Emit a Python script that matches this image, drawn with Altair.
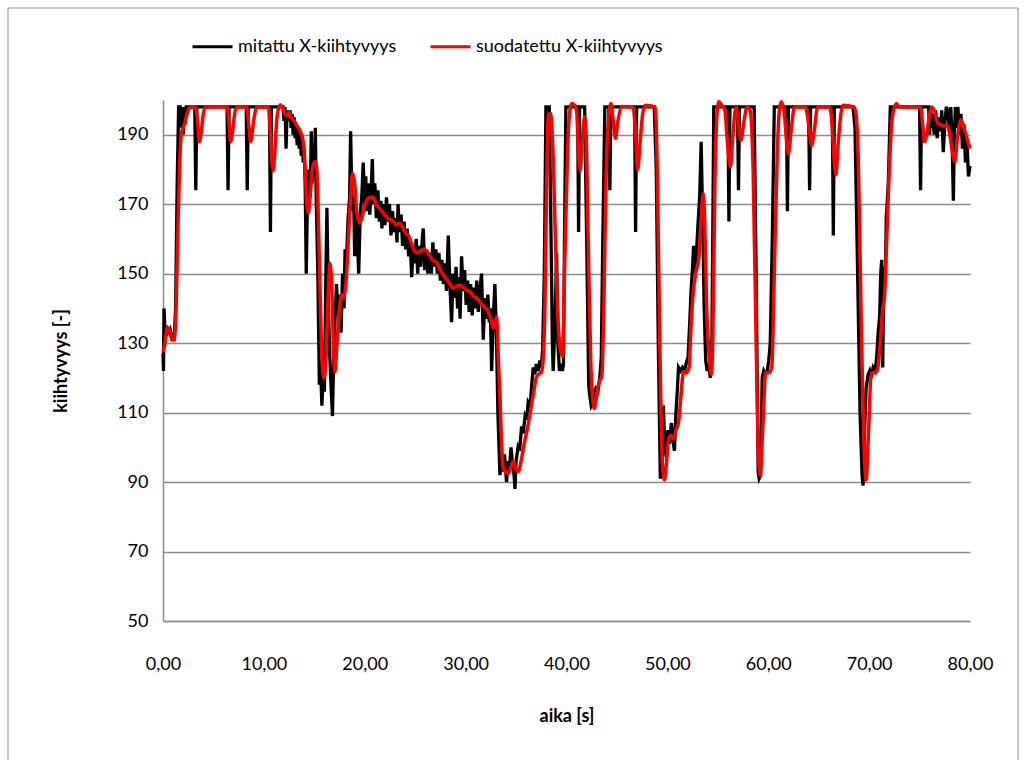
import altair as alt
import pandas as pd

# ---- data ----
meas_t = [0.0, 0.05, 0.1, 0.2, 0.3, 0.5, 0.7, 0.9, 1.1, 1.25, 1.4, 1.55, 1.7, 1.8, 1.9, 2.0, 2.1, 2.2, 2.3,
          3.15, 3.25, 3.35, 6.35, 6.45, 6.55, 8.25, 8.35, 8.45, 10.55, 10.65, 10.75,
          11.9, 12.0, 12.1, 12.2, 12.3, 12.5, 12.6, 12.7, 12.8, 12.9, 13.0, 13.1, 13.2, 13.3, 13.4, 13.5,
          13.6, 13.7, 13.8, 13.9, 14.0, 14.1, 14.2, 14.3, 14.45, 14.6, 14.7, 14.8, 14.9, 15.0, 15.1, 15.2,
          15.35, 15.5, 15.6, 15.75, 15.9, 16.0, 16.1, 16.25, 16.4, 16.55, 16.7, 16.8, 16.95, 17.1, 17.2,
          17.35, 17.5, 17.65, 17.8, 17.95, 18.05, 18.2, 18.35, 18.5, 18.6, 18.7, 18.8, 18.9, 19.0, 19.1,
          19.25, 19.4, 19.55, 19.7, 19.85, 20.0, 20.1, 20.2, 20.35, 20.5, 20.65, 20.75, 20.85, 21.0, 21.15,
          21.3, 21.45, 21.6, 21.7, 21.85, 22.0, 22.15, 22.3, 22.45, 22.6, 22.75, 22.9, 23.05, 23.2, 23.3,
          23.45, 23.6, 23.75, 23.9, 24.05, 24.2, 24.35, 24.5, 24.65, 24.8, 24.95, 25.1, 25.25, 25.4, 25.55,
          25.7, 25.8, 25.95, 26.1, 26.25, 26.4, 26.6, 26.75, 26.9, 27.05, 27.2, 27.35, 27.5, 27.65, 27.8,
          27.95, 28.1, 28.28, 28.45, 28.61, 28.75, 28.9, 29.05, 29.2, 29.35, 29.45, 29.6, 29.75, 29.9,
          30.05, 30.2, 30.35, 30.5, 30.65, 30.8, 30.95, 31.1, 31.25, 31.4, 31.58, 31.75, 31.9, 32.05, 32.2,
          32.35, 32.45, 32.58, 32.75, 32.9, 33.05, 33.2, 33.4, 33.55, 33.7, 33.85, 34.06, 34.2, 34.35, 34.5,
          34.65, 34.8, 34.89, 35.0, 35.2, 35.35, 35.55, 35.7, 35.9, 36.05, 36.2, 36.4, 36.55, 36.7, 36.85,
          37.0, 37.2, 37.36, 37.5, 37.63, 37.8, 37.96, 38.29, 38.45, 38.6, 38.68, 38.85, 39.02, 39.15, 39.3,
          39.45, 39.6, 39.7, 39.8, 39.94, 41.1, 41.2, 41.3, 41.8, 42.0, 42.2, 42.3, 42.45, 42.6, 42.75, 42.9,
          43.1, 43.3, 43.45, 43.6, 43.8, 44.2, 44.3, 44.4, 46.75, 46.85, 46.95, 48.7, 48.9, 49.1, 49.3,
          49.45, 49.6, 49.75, 49.9, 50.05, 50.2, 50.4, 50.55, 50.7, 50.85, 51.0, 51.1, 51.3, 51.5, 51.7,
          51.85, 52.05, 52.2, 52.35, 52.5, 52.6, 52.75, 52.9, 53.05, 53.2, 53.35, 53.5, 53.65, 53.8, 53.95,
          54.1, 54.25, 54.4, 54.6, 56.0, 56.1, 56.2, 56.95, 57.05, 57.15, 58.6, 58.8, 59.0, 59.1, 59.25,
          59.4, 59.55, 59.7, 59.9, 60.05, 60.2, 60.4, 60.6, 61.8, 61.9, 62.0, 64.0, 64.1, 64.2, 66.35, 66.45,
          66.55, 68.4, 68.6, 68.8, 69.1, 69.3, 69.4, 69.55, 69.7, 69.9, 70.05, 70.2, 70.4, 70.6, 70.75,
          70.9, 71.05, 71.15, 71.25, 71.35, 71.45, 71.6, 71.7, 71.9, 72.1, 75.0, 75.1, 75.2, 75.9, 76.0,
          76.1, 76.2, 76.3, 76.45, 76.6, 76.75, 76.9, 77.05, 77.2, 77.35, 77.5, 77.65, 77.8, 78.0, 78.1,
          78.25, 78.35, 78.45, 78.55, 78.7, 78.8, 78.95, 79.1, 79.25, 79.4, 79.55, 79.7, 79.85, 80.0]
meas_v = [127, 122, 140, 133, 135, 133, 134, 131, 131, 140, 175, 198, 198, 192, 198, 190, 198, 193, 198,
          198, 174, 198, 198, 174, 198, 198, 174, 198, 198, 162, 198,
          198, 194, 198, 186, 197, 194, 197, 192, 196, 190, 195, 189, 193, 187, 191, 186,
          190, 184, 188, 182, 186, 175, 150, 168, 180, 172, 191, 176, 185, 178, 192, 170,
          150, 118, 125, 112, 122, 116, 140, 169, 140, 125, 115, 109, 130, 140, 147,
          138, 144, 133, 150, 140, 157, 155, 166, 172, 191, 175, 168, 172, 155, 168,
          162, 150, 167, 172, 182, 170, 178, 168, 176, 167, 175, 183, 170, 176, 166,
          174, 165, 171, 163, 170, 164, 172, 165, 170, 161, 168, 162, 166, 159, 170,
          162, 167, 158, 165, 157, 163, 155, 160, 149, 157, 153, 160, 150, 158, 152,
          160, 163, 151, 157, 150, 156, 150, 159, 152, 157, 150, 156, 148, 154, 147,
          153, 145, 161, 146, 136, 150, 143, 152, 140, 149, 137, 155, 145, 151,
          141, 148, 139, 147, 138, 146, 140, 148, 139, 145, 150, 131, 143, 137, 144,
          136, 140, 122, 138, 147, 133, 110, 92, 97, 93, 98, 90, 96, 94, 100,
          95, 92, 88, 96, 100, 99, 106, 104, 109, 108, 113, 112, 118, 123, 121,
          124, 122, 125, 123, 128, 150, 198, 198, 165, 130, 122, 135, 156, 130, 122,
          124, 122, 124, 160, 198, 198, 162, 198, 198, 160, 118, 115, 112, 113, 116, 117,
          116, 120, 126, 160, 198, 198, 174, 198, 198, 162, 198, 198, 180, 130, 91,
          93, 112, 100, 97, 105, 101, 107, 102, 99, 110, 117, 123, 122, 123, 122,
          124, 126, 135, 145, 152, 158, 150, 157, 165, 172, 188, 165, 140, 125, 122,
          124, 120, 125, 198, 198, 165, 198, 198, 174, 198, 198, 150, 93, 91, 92,
          120, 122, 121, 122, 125, 130, 160, 198, 198, 168, 198, 198, 174, 198, 198, 161,
          198, 198, 192, 160, 110, 92, 89, 105, 117, 121, 122, 120, 123, 122, 126,
          133, 138, 150, 154, 123, 152, 147, 166, 176, 198, 198, 174, 198, 198, 190,
          198, 192, 196, 190, 197, 189, 195, 191, 197, 185, 193, 198, 197, 190, 198,
          185, 171, 190, 198, 192, 198, 190, 196, 186, 193, 182, 188, 178, 181]

filt_t = [0.0, 0.2, 0.43, 0.7, 0.9, 1.09, 1.3, 1.5, 1.7, 1.85, 2.0, 2.18, 2.4, 2.68, 3.25, 3.45, 3.6, 3.8,
          4.0, 4.16, 6.35, 6.55, 6.71, 6.9, 7.1, 7.3, 8.3, 8.5, 8.69, 8.9, 9.1, 9.28, 10.45, 10.65, 10.8,
          10.93, 11.1, 11.3, 11.6, 11.9, 12.1, 12.3, 12.5, 12.7, 13.0, 13.3, 13.6, 13.9, 14.1, 14.25, 14.4,
          14.6, 14.85, 15.1, 15.25, 15.45, 15.7, 15.95, 16.15, 16.35, 16.55, 16.75, 16.9, 17.05, 17.25,
          17.5, 17.7, 17.9, 18.1, 18.35, 18.6, 18.8, 19.0, 19.2, 19.5, 19.8, 20.1, 20.35, 20.6, 20.84,
          21.1, 21.4, 21.7, 22.0, 22.3, 22.6, 22.83, 23.1, 23.4, 23.65, 23.9, 24.1, 24.31, 24.6, 24.98,
          25.3, 25.6, 25.9, 26.13, 26.4, 26.7, 26.96, 27.2, 27.5, 27.95, 28.2, 28.45, 28.77, 29.1, 29.43,
          29.8, 30.1, 30.43, 30.8, 31.1, 31.42, 31.8, 32.0, 32.24, 32.5, 32.74, 32.9, 33.07, 33.25, 33.4,
          33.55, 33.73, 33.95, 34.22, 34.45, 34.72, 34.95, 35.21, 35.5, 35.8, 36.1, 36.37, 36.7, 37.03,
          37.3, 37.53, 37.7, 37.86, 38.0, 38.19, 38.42, 38.55, 38.68, 38.9, 39.18, 39.4, 39.61, 39.8,
          40.01, 40.2, 40.5, 40.8, 41.0, 41.15, 41.35, 41.55, 41.8, 41.95, 42.15, 42.4, 42.6, 42.75, 43.0,
          43.2, 43.5, 43.7, 43.9, 44.1, 44.4, 44.6, 44.85, 45.1, 45.5, 46.6, 46.85, 47.05, 47.3, 47.55,
          47.8, 48.8, 49.0, 49.25, 49.5, 49.7, 49.9, 50.1, 50.35, 50.6, 50.85, 51.1, 51.35, 51.6, 51.9,
          52.15, 52.35, 52.55, 52.8, 53.1, 53.3, 53.55, 53.7, 53.9, 54.1, 54.35, 54.5, 54.7, 54.9, 55.1,
          55.4, 55.7, 55.95, 56.25, 56.5, 56.8, 57.05, 57.3, 57.55, 57.9, 58.2, 58.5, 58.8, 59.0, 59.2,
          59.45, 59.75, 60.1, 60.35, 60.6, 60.9, 61.1, 61.3, 61.6, 61.85, 62.0, 62.3, 62.6, 63.7, 64.0,
          64.3, 64.55, 64.9, 66.1, 66.35, 66.55, 66.7, 66.95, 67.2, 67.4, 68.5, 68.7, 68.95, 69.25, 69.5,
          69.7, 69.95, 70.2, 70.5, 70.8, 71.1, 71.35, 71.5, 71.75, 72.0, 72.3, 72.7, 73.0, 75.1, 75.3,
          75.5, 75.75, 76.0, 76.2, 76.45, 76.8, 77.1, 77.4, 77.8, 78.0, 78.2, 78.5, 78.75, 79.1, 79.4,
          79.7, 80.0]
filt_v = [127.5, 130, 134.6, 133, 131, 130.9, 140, 165, 185, 190.8, 192, 193.6, 196, 198, 198, 193, 188, 191,
          196, 198, 198, 193, 188, 191, 196, 198, 198, 193, 188, 192, 196, 198, 198, 190, 182,
          179.6, 186, 195, 198.6, 197.5, 196, 195.5, 196.5, 195, 194, 192.5, 191, 188, 180, 170, 167.5,
          173, 181, 182.3, 180, 160, 130, 120, 125, 142, 153, 145, 128, 121.7, 130,
          140, 143.9, 143, 146, 158, 172, 178.9, 176, 168, 164.6, 167, 170.5, 171.7, 172, 172,
          170, 169, 168, 166.9, 166, 165.5, 165, 164, 164.5, 164, 162.5, 161.5, 161.1, 159, 156.3,
          156, 156.8, 157, 156.5, 155.5, 154, 153.5, 153, 151, 149.1, 148, 147, 145.9, 146.5, 146.7,
          146, 145.3, 144.8, 143.5, 143, 141.9, 140.5, 140, 139.1, 137, 134.4, 135.5, 137.6, 125, 115.1,
          102, 94, 93, 92.5, 94, 95.9, 94, 93, 96, 101, 105, 109.3, 115, 120.3,
          121.2, 121.8, 126, 140, 170, 195.7, 196.2, 192, 183.7, 160, 135.7, 128, 126.1, 150,
          174.1, 192, 199, 198.5, 197, 188, 179.6, 188, 195.2, 190, 160, 125, 114, 111.2, 115,
          118.4, 120.5, 140, 175, 192, 199, 195, 189, 194, 198.1, 198, 190, 179.9, 188, 196,
          198.5, 198, 180, 130, 96, 90.6, 95, 102, 103.5, 102.5, 105, 107, 115, 121.8, 121.5,
          123, 135, 144, 150, 154, 163, 173, 165, 140, 128, 121, 130, 174, 195, 199.5,
          198.5, 197, 188, 180.8, 190, 198, 193, 188.5, 193, 198, 197, 180, 130, 100, 92,
          105, 121.5, 121.5, 123, 150, 185, 197, 199.5, 196, 187, 184.5, 192, 198, 198, 193,
          187, 191, 198, 198, 192, 182, 178.4, 188, 196, 198.5, 198, 196, 180, 130, 100,
          90.6, 105, 121.3, 121.5, 122, 130, 140, 142.4, 160, 180, 195, 199, 198, 198, 193,
          188, 191, 196, 198, 197, 193.3, 193, 192.5, 192.5, 190, 186, 182.3, 189, 194.3, 192,
          189, 186]

series_names = ["mitattu X-kiihtyvyys", "suodatettu X-kiihtyvyys"]
series_colors = ["#000000", "#ff0000"]
x_ticks = [0, 10, 20, 30, 40, 50, 60, 70, 80]
y_ticks = [50, 70, 90, 110, 130, 150, 170, 190]

df_meas = pd.DataFrame({"t": meas_t, "v": meas_v, "s": series_names[0]})
df_filt = pd.DataFrame({"t": filt_t, "v": filt_v, "s": series_names[1]})

font = "Lato"
fs = 18
grid_col = "#8c8c8c"

x_enc = alt.X("t:Q", scale=alt.Scale(domain=[0, 80], nice=False, zero=False),
              axis=alt.Axis(values=x_ticks, title="aika [s]", grid=False, ticks=False,
                            labelFlush=False,
                            labelExpr="replace(format(datum.value, '.2f'), '.', ',')",
                            labelPadding=34, titlePadding=34, domainColor=grid_col, domainWidth=1.5,
                            labelFont=font, labelFontSize=fs, labelColor="#000000",
                            titleFont=font, titleFontSize=fs, titleFontWeight="bold",
                            titleColor="#000000"))
y_enc = alt.Y("v:Q", scale=alt.Scale(domain=[50, 200], nice=False, zero=False),
              axis=alt.Axis(values=y_ticks, title="kiihtyvyys [-]", grid=True, ticks=False,
                            labelPadding=15, titlePadding=46, gridColor=grid_col, gridWidth=1.5,
                            domainColor=grid_col, domainWidth=1.5,
                            labelFont=font, labelFontSize=fs, labelColor="#000000",
                            titleFont=font, titleFontSize=fs, titleFontWeight="bold",
                            titleColor="#000000"))
color_enc = alt.Color("s:N", scale=alt.Scale(domain=series_names, range=series_colors),
                      legend=alt.Legend(title=None, orient="none", legendX=28, legendY=-75,
                                        direction="horizontal", symbolType="stroke",
                                        symbolSize=1600, symbolStrokeWidth=3, labelOffset=4,
                                        columnPadding=27, labelFontSize=fs, labelFont=font,
                                        labelColor="#000000", labelLimit=0))

frame = alt.Chart(pd.DataFrame({"a": [0]})).mark_rect(
    fill=None, stroke="#8c8c8c", strokeWidth=1
).encode(x=alt.value(-155), x2=alt.value(855), y=alt.value(-92), y2=alt.value(700))

black = alt.Chart(df_meas).mark_line(strokeWidth=3.3).encode(
    x=x_enc, y=y_enc, color=color_enc, order="t:Q")
red = alt.Chart(df_filt).mark_line(strokeWidth=3.5, interpolate="monotone").encode(
    x=x_enc, y=y_enc, color=color_enc, order="t:Q")

chart = alt.layer(frame, black, red).properties(
    width=807, height=521,
    background="white",
    autosize=alt.AutoSizeParams(type="none"),
    padding={"left": 163, "top": 100, "right": 56, "bottom": 139},
).configure_view(stroke=None)

chart.save("out.html", embed_options={"renderer": "svg", "actions": False})
